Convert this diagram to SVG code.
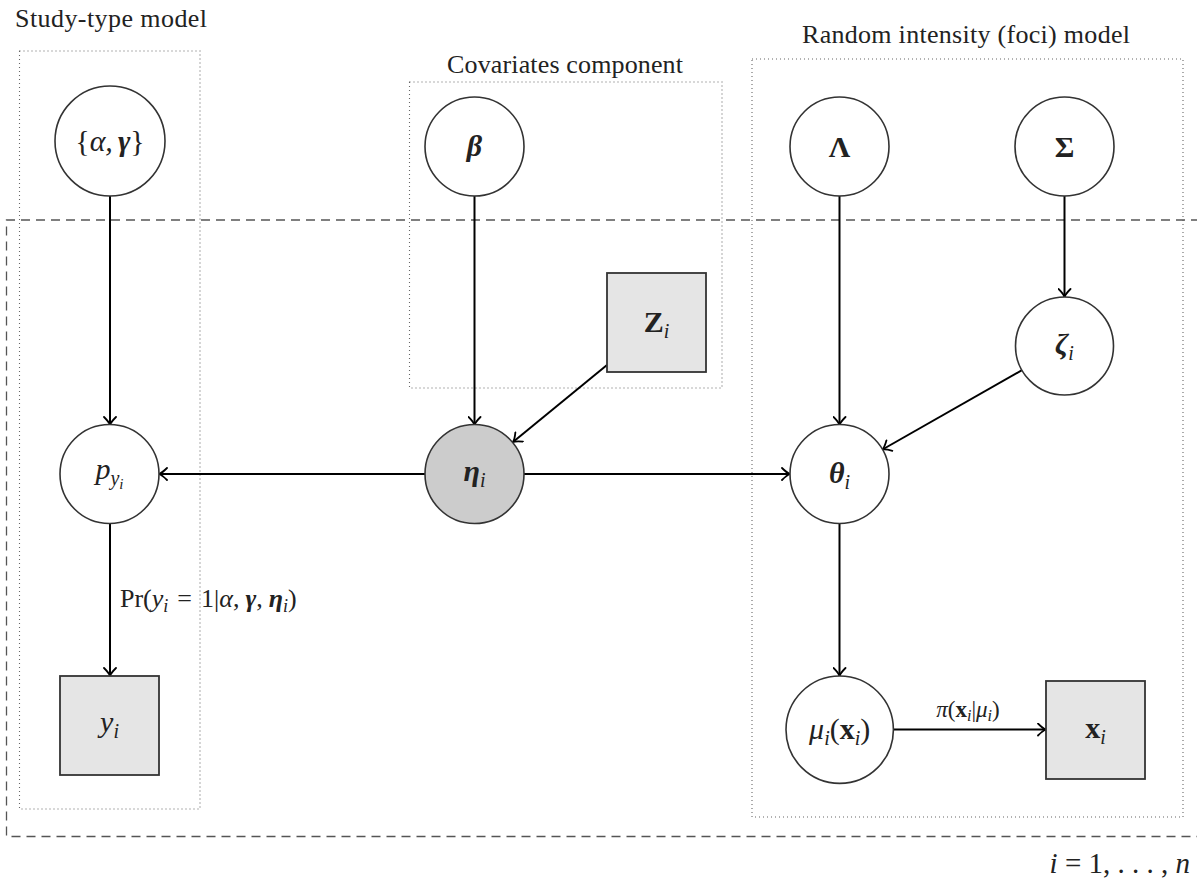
<svg xmlns="http://www.w3.org/2000/svg" width="1197" height="879" viewBox="0 0 1197 879">
<style>
.nd circle{fill:#fff;stroke:#333;stroke-width:1.6}
.nd circle.lat{fill:#ccc}
.nd rect{fill:#e5e5e5;stroke:#333;stroke-width:1.8}
.edge{stroke:#000;stroke-width:2;fill:none;marker-end:url(#arr)}
.box{fill:none;stroke:#666;stroke-width:1.1;stroke-dasharray:1 3}
.plate{fill:none;stroke:#555;stroke-width:1.3;stroke-dasharray:9 6}
.t{font-family:"Liberation Serif",serif;font-size:26px;fill:#222}
.m{font-family:"Liberation Serif",serif;font-style:italic;font-size:30px;fill:#222;text-anchor:middle}
.up{font-style:normal}
.b{font-weight:bold}
.s{font-size:20px;font-weight:normal;font-style:italic}
</style>
<defs>
<marker id="arr" markerUnits="userSpaceOnUse" viewBox="-10 -7 12 14" refX="0" refY="0" markerWidth="12" markerHeight="14" orient="auto">
<path d="M-8,-6 Q-3,-1 0,0 Q-3,1 -8,6" fill="none" stroke="#000" stroke-width="1.8" stroke-linecap="round"/>
</marker>
</defs>
<g id="frames">
<rect class="box" x="19.5" y="51" width="180.5" height="758"/>
<rect class="box" x="409.5" y="82" width="312.5" height="306"/>
<rect class="box" x="752" y="59" width="431" height="758"/>
<path class="plate" d="M1200,220 H6.5 V836.5 H1200"/>
<text class="t" x="15" y="27" textLength="192" lengthAdjust="spacing">Study-type model</text>
<text class="t" x="447" y="73" textLength="236" lengthAdjust="spacing">Covariates component</text>
<text class="t" x="802" y="43" textLength="328" lengthAdjust="spacing">Random intensity (foci) model</text>
<text class="t" x="1190" y="873" text-anchor="end" style="font-size:29px"><tspan font-style="italic">i</tspan> = 1, . . . , <tspan font-style="italic">n</tspan></text>
</g>
<g id="connectors">
<line class="edge" x1="110" y1="196" x2="110" y2="425"/>
<line class="edge" x1="474.5" y1="196" x2="474.5" y2="425"/>
<line class="edge" x1="607" y1="365" x2="513" y2="442"/>
<line class="edge" x1="425" y1="474" x2="159" y2="474"/>
<line class="edge" x1="524" y1="474" x2="790" y2="474"/>
<line class="edge" x1="839.5" y1="196" x2="839.5" y2="425"/>
<line class="edge" x1="1064.5" y1="196" x2="1064.5" y2="297"/>
<line class="edge" x1="1022" y1="370.2" x2="882.5" y2="449.5"/>
<line class="edge" x1="839.5" y1="523.5" x2="839.5" y2="676"/>
<line class="edge" x1="110" y1="523.5" x2="110" y2="676"/>
<line class="edge" x1="893.5" y1="729.5" x2="1046" y2="729.5"/>
<text class="t" x="120" y="607" style="font-size:26px">Pr(<tspan font-style="italic">y</tspan><tspan dy="5" style="font-size:18px;font-style:italic">i</tspan><tspan dy="-5" dx="9">=</tspan><tspan dx="9">1|</tspan><tspan font-style="italic">α</tspan>,<tspan dx="6" font-style="italic" font-weight="bold">γ</tspan>,<tspan dx="6" font-style="italic" font-weight="bold">η</tspan><tspan dy="5" style="font-size:18px;font-style:italic">i</tspan><tspan dy="-5">)</tspan></text>
<text class="t" x="968" y="717" text-anchor="middle" style="font-size:23px"><tspan font-style="italic">π</tspan>(<tspan font-weight="bold">x</tspan><tspan dy="4" style="font-size:16px;font-style:italic">i</tspan><tspan dy="-4">|</tspan><tspan font-style="italic">μ</tspan><tspan dy="4" style="font-size:16px;font-style:italic">i</tspan><tspan dy="-4">)</tspan></text>
</g>
<g id="n-alphagamma" class="nd">
<circle cx="110" cy="141" r="55"/>
<text class="m" x="110" y="151"><tspan class="up">{</tspan>α,<tspan dx="5" class="b">γ</tspan><tspan class="up">}</tspan></text>
</g>
<g id="n-beta" class="nd">
<circle cx="474.5" cy="146.5" r="49.5"/>
<text class="m b" x="474.5" y="156">β</text>
</g>
<g id="n-lambda" class="nd">
<circle cx="839.5" cy="146.5" r="49.5"/>
<text class="m up b" x="839.5" y="157">Λ</text>
</g>
<g id="n-sigma" class="nd">
<circle cx="1064.5" cy="146.5" r="49.5"/>
<text class="m up b" x="1064.5" y="157">Σ</text>
</g>
<g id="n-zeta" class="nd">
<circle cx="1064.5" cy="346" r="49"/>
<text class="m" x="1064.5" y="354"><tspan class="b">ζ</tspan><tspan class="s" dy="6">i</tspan></text>
</g>
<g id="n-Z" class="nd">
<rect x="607" y="273" width="99" height="99"/>
<text class="m" x="656.5" y="332"><tspan class="b up">Z</tspan><tspan class="s" dy="6">i</tspan></text>
</g>
<g id="n-py" class="nd">
<circle cx="109.5" cy="474" r="49.5"/>
<text class="m" x="109.5" y="479">p<tspan class="s" dy="6">y</tspan><tspan dy="4" style="font-size:15px">i</tspan></text>
</g>
<g id="n-eta" class="nd">
<circle class="lat" cx="474.5" cy="474" r="49.5"/>
<text class="m" x="474.5" y="481"><tspan class="b">η</tspan><tspan class="s" dy="6">i</tspan></text>
</g>
<g id="n-theta" class="nd">
<circle cx="839.5" cy="474" r="49.5"/>
<text class="m" x="839.5" y="483"><tspan class="b">θ</tspan><tspan class="s" dy="6">i</tspan></text>
</g>
<g id="n-mu" class="nd">
<circle cx="839.7" cy="729.7" r="53.7"/>
<text class="m" x="839.7" y="739">μ<tspan class="s" dy="6">i</tspan><tspan class="up" dy="-6">(</tspan><tspan class="up b">x</tspan><tspan class="s" dy="6">i</tspan><tspan class="up" dy="-6">)</tspan></text>
</g>
<g id="n-x" class="nd">
<rect x="1046" y="681" width="99" height="98"/>
<text class="m" x="1095.5" y="738"><tspan class="up b">x</tspan><tspan class="s" dy="6">i</tspan></text>
</g>
<g id="n-y" class="nd">
<rect x="60" y="676" width="99" height="99"/>
<text class="m" x="109.5" y="732">y<tspan class="s" dy="6">i</tspan></text>
</g>
</svg>
